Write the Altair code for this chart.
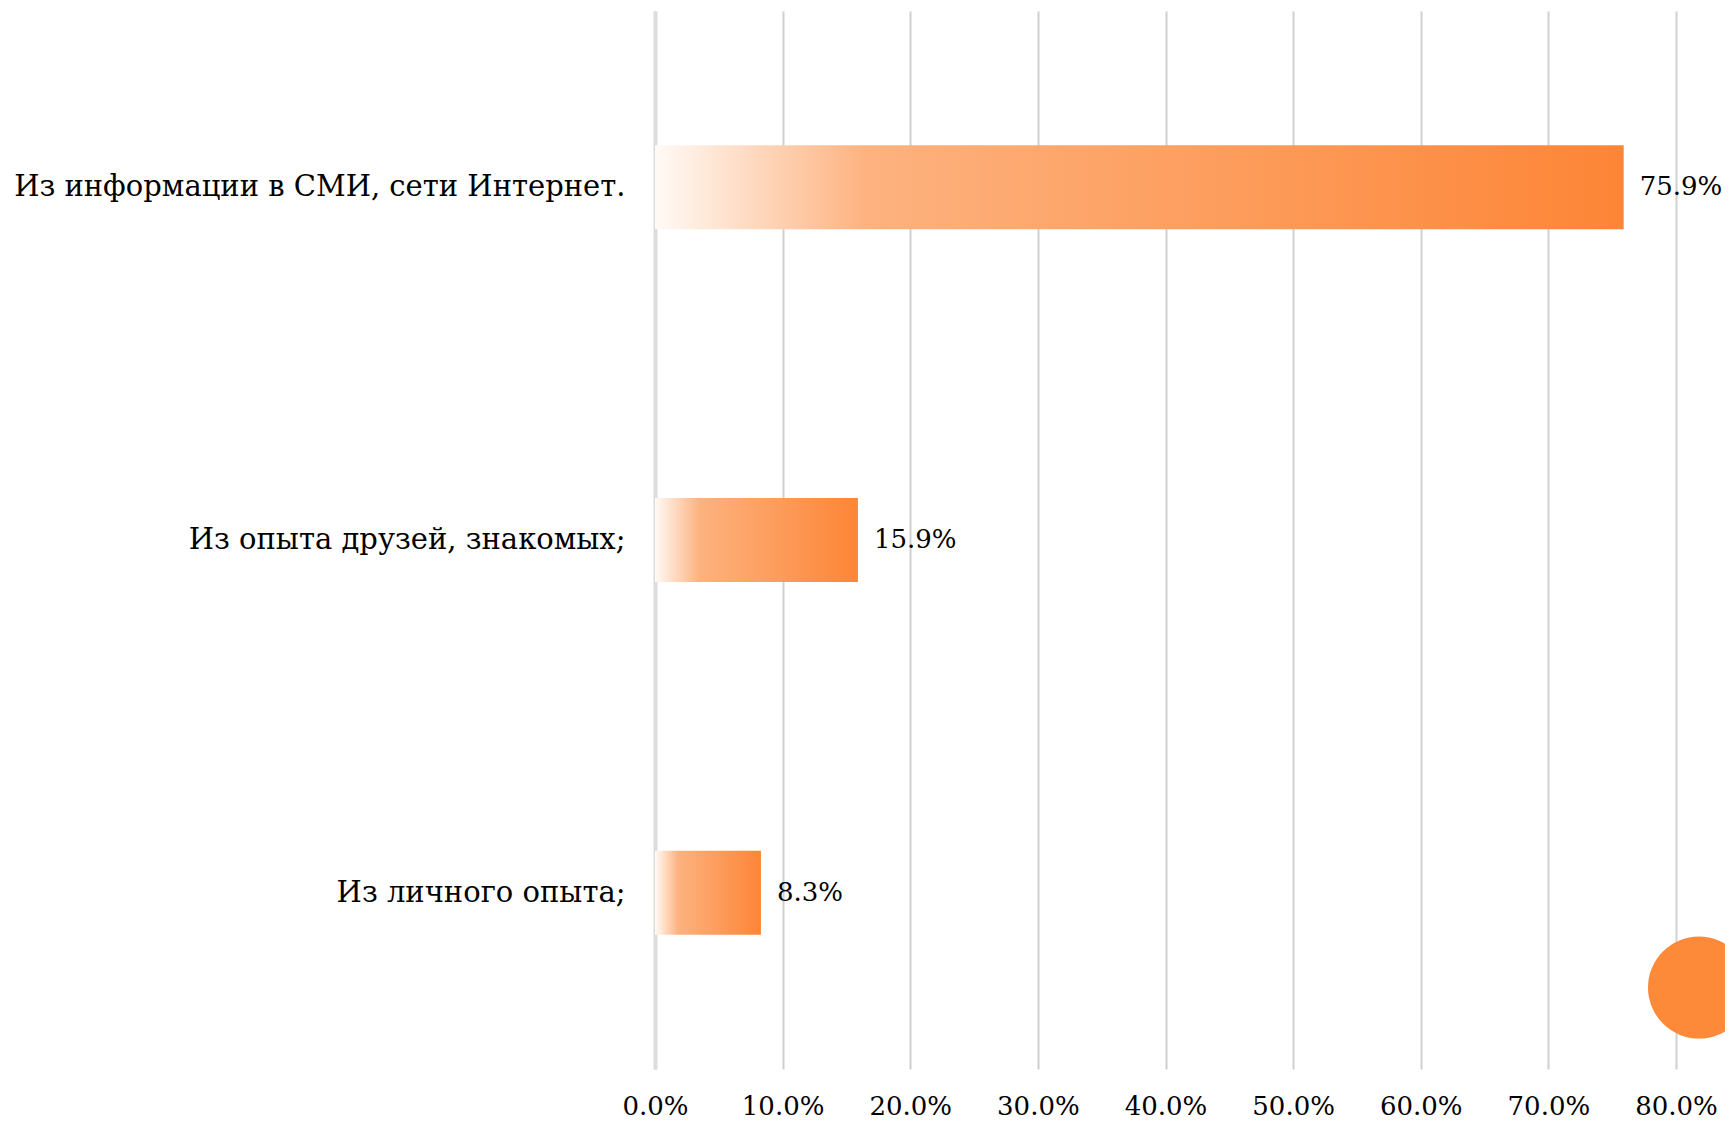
import altair as alt
import pandas as pd

categories = ["Из информации в СМИ, сети Интернет.", "Из опыта друзей, знакомых;", "Из личного опыта;"]
values = [75.9, 15.9, 8.3]
value_labels = ["75.9%", "15.9%", "8.3%"]
tick_values = [0, 10, 20, 30, 40, 50, 60, 70, 80]
dot_x = [81.8]
dot_y = [0.077]

df = pd.DataFrame({"cat": categories, "val": values, "lab": value_labels})
dot_df = pd.DataFrame({"x": dot_x, "y": dot_y})

FONT = "DejaVu Serif"

grad = alt.Gradient(
    gradient="linear", x1=0, x2=1, y1=0, y2=0,
    stops=[
        alt.GradientStop(color="#fffaf6", offset=0),
        alt.GradientStop(color="#fdb27f", offset=0.22),
        alt.GradientStop(color="#fd8536", offset=1),
    ],
)

xscale = alt.Scale(domain=[0, 80], nice=False, zero=True)
yscale = alt.Scale(domain=categories, paddingInner=0.762, paddingOuter=0.381)

xaxis = alt.Axis(
    title=None, values=tick_values,
    labelExpr="format(datum.value, '.1f') + '%'",
    labelFont=FONT, labelFontSize=26, labelColor="#000", labelPadding=24,
    labelOverlap=False, labelFlush=False, labelAlign="center",
    grid=True, gridColor="#d0d0d0", gridWidth=2,
    domain=False, ticks=False,
)
yaxis = alt.Axis(
    title=None, labelFont=FONT, labelFontSize=29, labelColor="#000",
    labelPadding=30, labelLimit=1000, ticks=False, grid=False,
    domain=True, domainColor="#dcdcdc", domainWidth=4,
)

base = alt.Chart(df).encode(
    y=alt.Y("cat:N", sort=categories, scale=yscale, axis=yaxis),
)

bars = base.mark_bar(color=grad).encode(
    x=alt.X("val:Q", scale=xscale, axis=xaxis),
)
texts = base.mark_text(align="left", baseline="middle", dx=16, font=FONT, fontSize=26, color="#000").encode(
    x=alt.X("val:Q", scale=xscale, axis=xaxis),
    text="lab:N",
)

dot = alt.Chart(dot_df).mark_circle(color="#fd8a38", opacity=1, size=10400).encode(
    x=alt.X("x:Q", scale=xscale, axis=xaxis),
    y=alt.Y("y:Q", scale=alt.Scale(domain=[0, 1]), axis=None),
)

chart = alt.layer(alt.layer(bars, texts), dot).resolve_scale(y="independent").properties(
    width=1021, height=1058,
    autosize="none",
    padding={"left": 647, "top": 3, "right": 49, "bottom": 51},
).configure_view(stroke=None)

chart.save("out.html", embed_options={"renderer": "svg", "actions": False})
